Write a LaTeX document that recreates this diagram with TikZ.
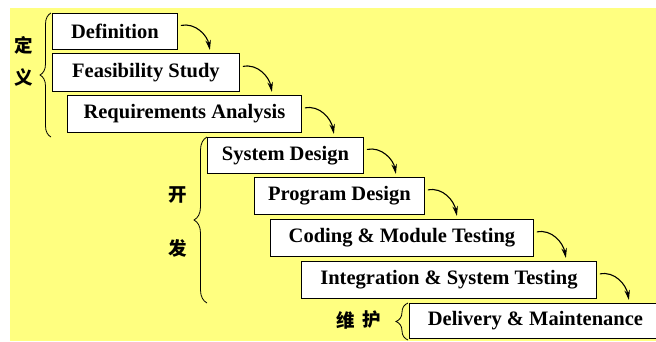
\documentclass[tikz,border=0pt]{standalone}
\usepackage{fontspec}
\setmainfont{Liberation Serif}
\newfontfamily\cjk{Noto Sans CJK SC}
\usetikzlibrary{arrows.meta,calc,decorations.pathreplacing}
\definecolor{paleyellow}{RGB}{255,255,128}
\tikzset{
  stagebox/.style={draw=black, line width=0.9pt, fill=white, inner sep=0pt,
    anchor=north west, font=\fontsize{20.5}{22}\selectfont\bfseries},
  flow/.style={line width=1.1pt, -{Stealth[length=10pt,width=5.5pt]}},
  phasebrace/.style={line width=0.8pt, decorate,
    decoration={brace, amplitude=#1}},
  phase/.style={font=\cjk\bfseries\fontsize{18.5}{18.5}\selectfont, inner sep=0pt}
}
\begin{document}
\begin{tikzpicture}[x=1pt,y=1pt]
  \useasboundingbox (0,0) rectangle (656,-341);
  \fill[white] (0,0) rectangle (656,-341);
  \fill[paleyellow] (10,-8) rectangle (656,-341);

  % the stages of the waterfall, one step lower and further right each time
  \node[stagebox, minimum width=125, minimum height=36] (def)   at (52,-13)  {Definition};
  \node[stagebox, minimum width=187, minimum height=38] (feas)  at (52,-53)  {Feasibility Study};
  \node[stagebox, minimum width=234, minimum height=37] (req)   at (67,-95)  {Requirements Analysis};
  \node[stagebox, minimum width=156, minimum height=36] (sys)   at (207,-137) {System Design};
  \node[stagebox, minimum width=170, minimum height=37] (prog)  at (254,-177) {Program Design};
  \node[stagebox, minimum width=263, minimum height=37] (code)  at (270,-219) {Coding \& Module Testing};
  \node[stagebox, minimum width=295, minimum height=37] (integ) at (301,-261) {Integration \& System Testing};
  \node[stagebox, minimum width=252, minimum height=35] (deliv) at (409,-303) {Delivery \& Maintenance};

  % curved arrows falling from each stage onto the next
  \foreach \a/\b in {def/feas, feas/req, req/sys, sys/prog, prog/code, code/integ, integ/deliv}{
    \draw[flow] ([xshift=3pt,yshift=6pt]\a.east)
      to[out=12,in=100] ($(\a.east |- \b.north)+(32pt,3pt)$);
  }

  % phase braces with their labels
  \coordinate (defTop) at (51,-13);
  \coordinate (defBot) at (51,-137);
  \draw[phasebrace=11pt] (defBot) -- (defTop);
  \node[phase] (ding) at (24,-45) {定};
  \node[phase] (yi)   at (24,-77) {义};

  \coordinate (devTop) at (207,-137);
  \coordinate (devBot) at (207,-303);
  \draw[phasebrace=13pt] (devBot) -- (devTop);
  \node[phase] (kai) at (178,-195) {开};
  \node[phase] (fa)  at (178,-248) {发};

  \coordinate (mntTop) at (408,-303);
  \coordinate (mntBot) at (408,-340);
  \draw[phasebrace=12pt] (mntBot) -- (mntTop);
  \node[phase] (wei) at (346,-320) {维};
  \node[phase] (hu)  at (372,-320) {护};
\end{tikzpicture}
\end{document}
